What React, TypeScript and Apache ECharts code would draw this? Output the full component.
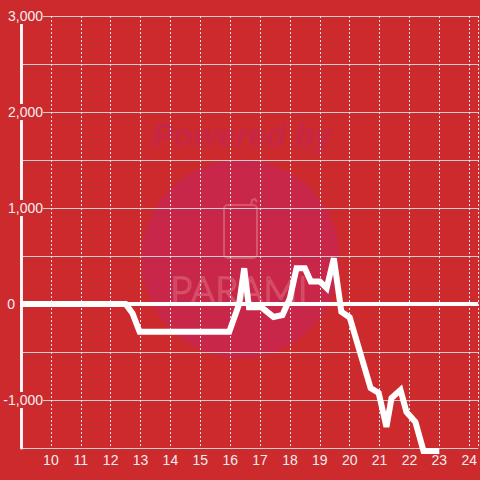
import React, { useEffect, useRef } from "react";
import * as echarts from "echarts";

const hours = [9, 12.5, 12.73, 12.97, 15.97, 16.3, 16.47, 16.63, 17.05, 17.45, 17.75, 18.0, 18.22, 18.5, 18.7, 19.0, 19.23, 19.47, 19.72, 20.0, 20.7, 20.97, 21.23, 21.4, 21.7, 21.9, 22.2, 22.47, 23.0];
const values = [0, 0, -95, -290, -290, 0, 372, -35, -35, -135, -115, 60, 372, 372, 235, 235, 165, 476, -80, -140, -875, -925, -1280, -980, -895, -1125, -1230, -1530, -1530];

const xTicks = { min: 9, max: 24.3, interval: 1 };
const yTicks = { min: -1500, max: 3000, interval: 500 };

const BG = "#cd2a2e";

export default function App() {
  const ref = useRef<HTMLDivElement>(null);
  useEffect(() => {
    if (!ref.current) return;
    const chart = echarts.init(ref.current, null, { renderer: "svg" });
    const data = hours.map((h, i) => [h, values[i]]);
    chart.setOption({
      animation: false,
      backgroundColor: BG,
      grid: { left: 21, right: 0, top: 16, bottom: 32, containLabel: false },
      graphic: [
        {
          type: "circle",
          z: -10,
          silent: true,
          shape: { cx: 240.5, cy: 259, r: 99 },
          style: { fill: "#c8274a" },
        },
        {
          type: "text",
          z: -10,
          silent: true,
          x: 242,
          y: 135,
          style: {
            text: "Powered by",
            fill: "#c62747",
            font: "italic bold 32px 'Liberation Sans', Arial, sans-serif",
            align: "center",
            verticalAlign: "middle",
          },
        },
        {
          type: "rect",
          z: -10,
          silent: true,
          shape: { x: 224, y: 205, width: 33, height: 53, r: 4 },
          style: { fill: "none", stroke: "#d8566a", lineWidth: 2 },
        },
        {
          type: "polyline",
          z: -10,
          silent: true,
          shape: { points: [[251, 206], [252, 200], [255, 199], [257, 202]] },
          style: { fill: "none", stroke: "#d8566a", lineWidth: 2 },
        },
        {
          type: "text",
          z: -10,
          silent: true,
          x: 239,
          y: 289,
          style: {
            text: "PARAMI",
            fill: "none",
            stroke: "#d65068",
            lineWidth: 1.5,
            font: "300 38px Lato, 'Liberation Sans', sans-serif",
            align: "center",
            verticalAlign: "middle",
          },
        },
      ],
      xAxis: {
        type: "value",
        min: xTicks.min,
        max: xTicks.max,
        interval: xTicks.interval,
        axisLine: { show: false },
        axisTick: { show: false },
        axisLabel: {
          showMinLabel: false,
          showMaxLabel: false,
          color: "#eeeeee",
          fontSize: 14,
          fontFamily: "'Liberation Sans', Arial, sans-serif",
          margin: 5,
          formatter: (v: number) => (Number.isInteger(v) ? String(v) : ""),
        },
        splitLine: {
          show: true,
          lineStyle: { color: "#e6e6e6", width: 1, type: [2, 2] },
        },
      },
      yAxis: {
        type: "value",
        min: yTicks.min,
        max: yTicks.max,
        interval: yTicks.interval,
        axisLine: { show: true, lineStyle: { color: "#f4f4f4", width: 3 } },
        axisTick: { show: false },
        axisLabel: {
          align: "right",
          margin: -22,
          color: "#eeeeee",
          fontSize: 14,
          fontFamily: "'Liberation Sans', Arial, sans-serif",
          formatter: (v: number) => {
            if (v % 1000 !== 0) return "";
            if (v === 0) return "{z|0}";
            return "{n|" + v.toLocaleString("en-US") + "}";
          },
          rich: {
            n: {
              backgroundColor: BG,
              color: "#eeeeee",
              fontSize: 14,
              fontFamily: "'Liberation Sans', Arial, sans-serif",
              padding: [1, 0, 1, 0],
            },
            z: {
              color: "#eeeeee",
              fontSize: 14,
              fontFamily: "'Liberation Sans', Arial, sans-serif",
              padding: [0, 28, 0, 0],
            },
          },
        },
        splitLine: { show: true, lineStyle: { color: "#cfcfcf", width: 1 } },
      },
      series: [
        {
          type: "line",
          data,
          showSymbol: false,
          symbol: "none",
          clip: false,
          lineStyle: { color: "#ffffff", width: 6, join: "miter" },
          markLine: {
            silent: true,
            symbol: ["none", "none"],
            label: { show: false },
            lineStyle: { color: "#ffffff", width: 4, type: "solid" },
            data: [{ yAxis: 0 }],
          },
        },
      ],
    });
    return () => chart.dispose();
  }, []);
  return (
    <div
      ref={ref}
      style={{ position: "fixed", left: 0, top: 0, width: 480, height: 480 }}
    />
  );
}
